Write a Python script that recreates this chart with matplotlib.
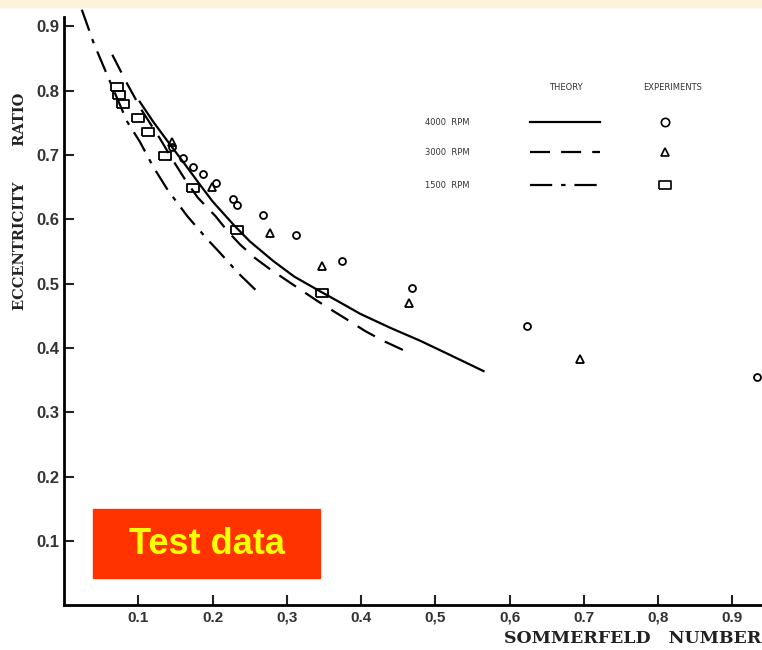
import matplotlib
matplotlib.use("Agg")
import matplotlib.pyplot as plt
from matplotlib.patches import Rectangle
from matplotlib.lines import Line2D

# theory curves (Sommerfeld number, eccentricity ratio)
s_4000 = [0.102, 0.12, 0.143, 0.16, 0.183, 0.2, 0.228, 0.25, 0.282, 0.31, 0.345, 0.37, 0.399, 0.44, 0.48, 0.52, 0.565]
e_4000 = [0.783, 0.752, 0.716, 0.69, 0.654, 0.628, 0.592, 0.566, 0.535, 0.511, 0.488, 0.472, 0.453, 0.431, 0.411, 0.389, 0.364]
s_3000 = [0.065, 0.085, 0.105, 0.129, 0.145, 0.163, 0.18, 0.204, 0.22, 0.237, 0.257, 0.278, 0.3, 0.318, 0.34, 0.359, 0.38, 0.406, 0.43, 0.46]
e_3000 = [0.856, 0.811, 0.769, 0.726, 0.695, 0.662, 0.634, 0.605, 0.582, 0.561, 0.54, 0.522, 0.505, 0.491, 0.474, 0.46, 0.445, 0.426, 0.411, 0.395]
s_1500 = [0.024, 0.04, 0.062, 0.085, 0.102, 0.12, 0.14, 0.166, 0.193, 0.21, 0.235, 0.26]
e_1500 = [0.926, 0.874, 0.814, 0.752, 0.721, 0.682, 0.645, 0.605, 0.569, 0.548, 0.516, 0.488]

# experiments
xs_4000 = [0.146, 0.16, 0.174, 0.187, 0.205, 0.228, 0.233, 0.268, 0.313, 0.375, 0.468, 0.623, 0.933]
ys_4000 = [0.713, 0.695, 0.682, 0.671, 0.656, 0.631, 0.623, 0.606, 0.575, 0.535, 0.493, 0.434, 0.355]
xs_3000 = [0.146, 0.199, 0.278, 0.348, 0.465, 0.695]
ys_3000 = [0.721, 0.65, 0.578, 0.527, 0.47, 0.383]
xs_1500 = [0.071, 0.074, 0.08, 0.1, 0.113, 0.136, 0.174, 0.233, 0.348]
ys_1500 = [0.806, 0.794, 0.78, 0.757, 0.736, 0.698, 0.648, 0.584, 0.485]

ticks = [0.1, 0.2, 0.3, 0.4, 0.5, 0.6, 0.7, 0.8, 0.9]
x_tick_labels = ["0.1", "0.2", "0,3", "0.4", "0,5", "0,6", "0.7", "0,8", "0.9"]
y_tick_labels = ["0.1", "0.2", "0.3", "0.4", "0.5", "0.6", "0.7", "0.8", "0.9"]
rpm_labels = ["4000  RPM", "3000  RPM", "1500  RPM"]

box = [(-1.5, -1), (1.5, -1), (1.5, 1), (-1.5, 1), (-1.5, -1)]
dash = (0, (9, 5))
dashdot = (0, (10, 4, 2, 4))

fig = plt.figure(figsize=(7.62, 6.5), dpi=100)
fig.patches.append(Rectangle((0, 0.989), 1, 0.011, transform=fig.transFigure,
                             color="#fdf2dc", zorder=0))
ax = fig.add_axes([0.084, 0.069, 0.916, 0.92])
ax.set_xlim(0, 0.94)
ax.set_ylim(0, 0.93)

ax.plot(s_4000, e_4000, color="black", lw=1.6)
ax.plot(s_3000, e_3000, color="black", lw=1.6, linestyle=dash)
ax.plot(s_1500, e_1500, color="black", lw=1.6, linestyle=dashdot)

ax.plot(xs_4000, ys_4000, "o", ms=5, mfc="none", mec="black", mew=1.3)
ax.plot(xs_3000, ys_3000, "^", ms=6, mfc="none", mec="black", mew=1.3)
ax.plot(xs_1500, ys_1500, linestyle="none", marker=box, ms=9, mfc="none", mec="black", mew=1.3)

for s in ["top", "right"]:
    ax.spines[s].set_visible(False)
ax.spines["left"].set_linewidth(2)
ax.spines["bottom"].set_linewidth(2)
ax.spines["left"].set_bounds(0, 0.915)

ax.set_xticks(ticks)
ax.set_xticklabels(x_tick_labels)
ax.set_yticks(ticks)
ax.set_yticklabels(y_tick_labels)
ax.tick_params(direction="in", length=7, width=1.5, colors="#222222")
ax.tick_params(axis="y", pad=3)
ax.tick_params(axis="x", pad=4)
for lab in ax.get_yticklabels():
    lab.set_fontfamily("Liberation Sans")
    lab.set_fontweight("bold")
    lab.set_fontsize(12)
    lab.set_color("#333333")
for lab in ax.get_xticklabels():
    lab.set_fontfamily("Liberation Sans")
    lab.set_fontweight("bold")
    lab.set_fontsize(11)
    lab.set_color("#333333")

fig.text(0.026, 0.69, "ECCENTRICITY       RATIO", rotation=90, ha="center", va="center",
         fontfamily="DejaVu Serif", fontweight="bold", fontsize=10.5, color="#222222")
fig.text(0.662, 0.018, "SOMMERFELD   NUMBER", ha="left", va="center",
         fontfamily="DejaVu Serif", fontweight="bold", fontsize=12.5, color="#222222")

# legend drawn like the original table
lt = dict(fontsize=6, color="#333333", fontfamily="DejaVu Sans", transform=fig.transFigure)
fig.text(0.743, 0.865, "THEORY", ha="center", va="center", **lt)
fig.text(0.882, 0.865, "EXPERIMENTS", ha="center", va="center", **lt)
styles = ["-", dash, dashdot]
marks = ["o", "^", box]
rows = [0.812, 0.766, 0.715]
for lab, st, mk, yr in zip(rpm_labels, styles, marks, rows):
    fig.text(0.558, yr, lab, ha="left", va="center", **lt)
    fig.add_artist(Line2D([0.695, 0.788], [yr, yr], transform=fig.transFigure,
                          color="black", lw=1.6, linestyle=st))
    fig.add_artist(Line2D([0.873], [yr], transform=fig.transFigure, linestyle="none",
                          marker=mk, ms=6 if mk != box else 8, mfc="none", mec="black", mew=1.2))

# "Test data" badge
fig.patches.append(Rectangle((0.122, 0.111), 0.298, 0.106, transform=fig.transFigure,
                             color="#ff3300", zorder=5))
fig.text(0.271, 0.163, "Test data", ha="center", va="center", color="#ffff00",
         fontfamily="Liberation Sans", fontweight="bold", fontsize=26, zorder=6)

fig.savefig("out.png", dpi=100, facecolor="white")
